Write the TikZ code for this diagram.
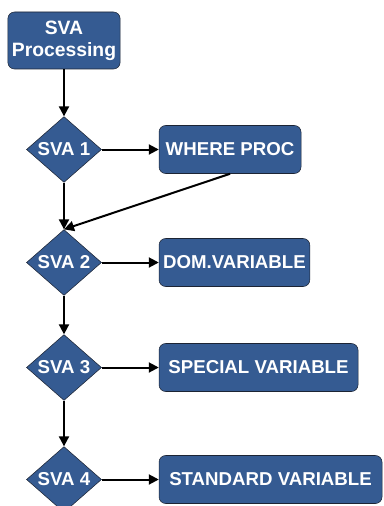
\documentclass[tikz,border=0pt]{standalone}
\usepackage{fontspec}
\setmainfont{Liberation Sans}
\usetikzlibrary{shapes.geometric}
\usetikzlibrary{arrows.meta, positioning}
\definecolor{svablue}{RGB}{53,91,146}
\definecolor{svaedge}{RGB}{28,36,52}
\tikzstyle{box} = [rectangle, rounded corners=5pt, fill=svablue, draw=svaedge, text=white, font=\bfseries\fontsize{14}{16.5}\selectfont, minimum height=36pt, inner sep=3pt]
\tikzstyle{decision} = [diamond, fill=svablue, draw=svaedge, text=white, font=\bfseries\fontsize{14}{16.5}\selectfont, minimum width=56.25pt, minimum height=48.75pt, inner sep=0pt]
\tikzstyle{arrow} = [line width=1.5pt, -{Triangle[length=7.5pt,width=7.5pt]}]

\begin{document}
\begin{tikzpicture}[x=0.75pt, y=0.75pt]
        \useasboundingbox (0,0) rectangle (383,-506);

        \node [box, minimum width=84pt, minimum height=42.75pt, align=center, font=\bfseries\fontsize{14.5}{16.5}\selectfont] (start) at (64,-40.5) {SVA\\Processing};

        \node [decision] (sva1) at (64,-149.5) {SVA 1};
        \node [decision] (sva2) at (64,-262.5) {SVA 2};
        \node [decision] (sva3) at (64,-367.5) {SVA 3};
        \node [decision] (sva4) at (64,-479.5) {SVA 4};

        \node [box, minimum width=106.5pt, right=42.75pt of sva1] (where) {WHERE PROC};
        \node [box, minimum width=111.75pt, right=42.75pt of sva2] (dom) {DOM.VARIABLE};
        \node [box, minimum width=149.25pt, right=42.75pt of sva3] (special) {SPECIAL VARIABLE};
        \node [box, minimum width=167.25pt, right=42.75pt of sva4] (standard) {STANDARD VARIABLE};

        \draw [arrow] (start) -- (sva1);
        \draw [arrow] (sva1) -- (sva2);
        \draw [arrow] (sva2) -- (sva3);
        \draw [arrow] (sva3) -- (sva4);

        \draw [arrow] (sva1) -- (where);
        \draw [arrow] (sva2) -- (dom);
        \draw [arrow] (sva3) -- (special);
        \draw [arrow] (sva4) -- (standard);

        \draw [arrow] (where.south) -- (sva2.north);
\end{tikzpicture}
\end{document}
